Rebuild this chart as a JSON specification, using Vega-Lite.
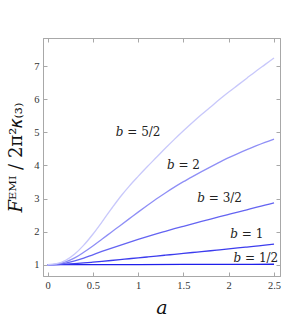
{
  "$schema": "https://vega.github.io/schema/vega-lite/v6.json",
  "autosize": "none",
  "width": 237,
  "height": 238,
  "padding": {"left": 43, "top": 38, "right": 19, "bottom": 50},
  "background": "white",
  "config": {
    "view": {"stroke": "#a8a8a8", "strokeWidth": 1},
    "axis": {
      "domainColor": "#a8a8a8",
      "tickColor": "#a8a8a8",
      "grid": false,
      "labelFont": "Liberation Serif",
      "labelFontSize": 10.5,
      "labelColor": "#333333",
      "titleFont": "DejaVu Serif",
      "titleFontWeight": "normal",
      "titleColor": "#111111"
    }
  },
  "datasets": {
    "curves": [
      {"b": "1/2", "a": 0, "v": 1.0}, {"b": "1/2", "a": 0.5, "v": 1.002}, {"b": "1/2", "a": 1.0, "v": 1.004}, {"b": "1/2", "a": 1.5, "v": 1.007}, {"b": "1/2", "a": 2.0, "v": 1.01}, {"b": "1/2", "a": 2.5, "v": 1.013},
      {"b": "1", "a": 0, "v": 1.0}, {"b": "1", "a": 0.1, "v": 1.004}, {"b": "1", "a": 0.2, "v": 1.015}, {"b": "1", "a": 0.3, "v": 1.032}, {"b": "1", "a": 0.4, "v": 1.053}, {"b": "1", "a": 0.5, "v": 1.077}, {"b": "1", "a": 0.6, "v": 1.102}, {"b": "1", "a": 0.7, "v": 1.127}, {"b": "1", "a": 0.8, "v": 1.153}, {"b": "1", "a": 0.9, "v": 1.18}, {"b": "1", "a": 1.0, "v": 1.206}, {"b": "1", "a": 1.1, "v": 1.233}, {"b": "1", "a": 1.2, "v": 1.26}, {"b": "1", "a": 1.3, "v": 1.287}, {"b": "1", "a": 1.4, "v": 1.314}, {"b": "1", "a": 1.5, "v": 1.341}, {"b": "1", "a": 1.6, "v": 1.368}, {"b": "1", "a": 1.7, "v": 1.395}, {"b": "1", "a": 1.8, "v": 1.422}, {"b": "1", "a": 1.9, "v": 1.45}, {"b": "1", "a": 2.0, "v": 1.478}, {"b": "1", "a": 2.1, "v": 1.506}, {"b": "1", "a": 2.2, "v": 1.534}, {"b": "1", "a": 2.3, "v": 1.562}, {"b": "1", "a": 2.4, "v": 1.59}, {"b": "1", "a": 2.5, "v": 1.62},
      {"b": "3/2", "a": 0, "v": 1.0}, {"b": "3/2", "a": 0.1, "v": 1.012}, {"b": "3/2", "a": 0.2, "v": 1.05}, {"b": "3/2", "a": 0.3, "v": 1.115}, {"b": "3/2", "a": 0.4, "v": 1.2}, {"b": "3/2", "a": 0.5, "v": 1.3}, {"b": "3/2", "a": 0.6, "v": 1.4}, {"b": "3/2", "a": 0.7, "v": 1.495}, {"b": "3/2", "a": 0.8, "v": 1.587}, {"b": "3/2", "a": 0.9, "v": 1.677}, {"b": "3/2", "a": 1.0, "v": 1.765}, {"b": "3/2", "a": 1.1, "v": 1.85}, {"b": "3/2", "a": 1.2, "v": 1.932}, {"b": "3/2", "a": 1.3, "v": 2.01}, {"b": "3/2", "a": 1.4, "v": 2.087}, {"b": "3/2", "a": 1.5, "v": 2.162}, {"b": "3/2", "a": 1.6, "v": 2.236}, {"b": "3/2", "a": 1.7, "v": 2.309}, {"b": "3/2", "a": 1.8, "v": 2.381}, {"b": "3/2", "a": 1.9, "v": 2.452}, {"b": "3/2", "a": 2.0, "v": 2.522}, {"b": "3/2", "a": 2.1, "v": 2.592}, {"b": "3/2", "a": 2.2, "v": 2.661}, {"b": "3/2", "a": 2.3, "v": 2.73}, {"b": "3/2", "a": 2.4, "v": 2.8}, {"b": "3/2", "a": 2.5, "v": 2.87},
      {"b": "2", "a": 0, "v": 1.0}, {"b": "2", "a": 0.1, "v": 1.02}, {"b": "2", "a": 0.2, "v": 1.085}, {"b": "2", "a": 0.3, "v": 1.205}, {"b": "2", "a": 0.4, "v": 1.375}, {"b": "2", "a": 0.5, "v": 1.565}, {"b": "2", "a": 0.6, "v": 1.77}, {"b": "2", "a": 0.7, "v": 1.975}, {"b": "2", "a": 0.8, "v": 2.18}, {"b": "2", "a": 0.9, "v": 2.385}, {"b": "2", "a": 1.0, "v": 2.59}, {"b": "2", "a": 1.1, "v": 2.79}, {"b": "2", "a": 1.2, "v": 2.985}, {"b": "2", "a": 1.3, "v": 3.17}, {"b": "2", "a": 1.4, "v": 3.345}, {"b": "2", "a": 1.5, "v": 3.51}, {"b": "2", "a": 1.6, "v": 3.665}, {"b": "2", "a": 1.7, "v": 3.815}, {"b": "2", "a": 1.8, "v": 3.96}, {"b": "2", "a": 1.9, "v": 4.1}, {"b": "2", "a": 2.0, "v": 4.235}, {"b": "2", "a": 2.1, "v": 4.36}, {"b": "2", "a": 2.2, "v": 4.478}, {"b": "2", "a": 2.3, "v": 4.592}, {"b": "2", "a": 2.4, "v": 4.7}, {"b": "2", "a": 2.5, "v": 4.8},
      {"b": "5/2", "a": 0, "v": 1.0}, {"b": "5/2", "a": 0.1, "v": 1.03}, {"b": "5/2", "a": 0.2, "v": 1.13}, {"b": "5/2", "a": 0.3, "v": 1.32}, {"b": "5/2", "a": 0.4, "v": 1.59}, {"b": "5/2", "a": 0.5, "v": 1.92}, {"b": "5/2", "a": 0.6, "v": 2.29}, {"b": "5/2", "a": 0.7, "v": 2.67}, {"b": "5/2", "a": 0.8, "v": 3.04}, {"b": "5/2", "a": 0.9, "v": 3.37}, {"b": "5/2", "a": 1.0, "v": 3.67}, {"b": "5/2", "a": 1.1, "v": 3.96}, {"b": "5/2", "a": 1.2, "v": 4.24}, {"b": "5/2", "a": 1.3, "v": 4.52}, {"b": "5/2", "a": 1.4, "v": 4.79}, {"b": "5/2", "a": 1.5, "v": 5.05}, {"b": "5/2", "a": 1.6, "v": 5.3}, {"b": "5/2", "a": 1.7, "v": 5.54}, {"b": "5/2", "a": 1.8, "v": 5.77}, {"b": "5/2", "a": 1.9, "v": 6.0}, {"b": "5/2", "a": 2.0, "v": 6.22}, {"b": "5/2", "a": 2.1, "v": 6.43}, {"b": "5/2", "a": 2.2, "v": 6.64}, {"b": "5/2", "a": 2.3, "v": 6.85}, {"b": "5/2", "a": 2.4, "v": 7.05}, {"b": "5/2", "a": 2.5, "v": 7.25}
    ],
    "labels": [
      {"b": "5/2", "a": 1.0, "v": 5.0, "text": "𝑏 = 5/2"},
      {"b": "2", "a": 1.5, "v": 4.02, "text": "𝑏 = 2"},
      {"b": "3/2", "a": 1.9, "v": 3.01, "text": "𝑏 = 3/2"},
      {"b": "1", "a": 2.2, "v": 1.93, "text": "𝑏 = 1"},
      {"b": "1/2", "a": 2.3, "v": 1.2, "text": "𝑏 = 1/2"}
    ]
  },
  "layer": [
    {
      "data": {"name": "curves"},
      "mark": {"type": "line", "interpolate": "monotone", "strokeWidth": 1.3, "clip": true},
      "encoding": {
        "x": {
          "field": "a", "type": "quantitative",
          "scale": {"domain": [-0.05, 2.566], "nice": false, "zero": false},
          "axis": {"orient": "bottom", "values": [0, 0.5, 1, 1.5, 2, 2.5], "format": "~g", "tickSize": -4, "labelPadding": 8, "title": "𝑎", "titleFontSize": 19, "titlePadding": 8}
        },
        "y": {
          "field": "v", "type": "quantitative",
          "scale": {"domain": [0.658, 7.855], "nice": false, "zero": false},
          "axis": {"orient": "left", "values": [1, 2, 3, 4, 5, 6, 7], "format": "~g", "tickSize": -4, "labelPadding": 8, "title": "𝐹ᴱᴹᴵ / 2π²𝜅₍₃₎", "titleFontSize": 18, "titlePadding": 8}
        },
        "color": {
          "field": "b", "type": "nominal",
          "scale": {"domain": ["1/2", "1", "3/2", "2", "5/2"], "range": ["#1f1fea", "#3c3cee", "#6464f2", "#8f8ff6", "#c8c8fb"]},
          "legend": null
        }
      }
    },
    {
      "data": {"name": "labels"},
      "mark": {"type": "text", "font": "DejaVu Serif", "fontSize": 12, "color": "#222222"},
      "encoding": {
        "x": {"field": "a", "type": "quantitative", "axis": {"orient": "top", "values": [0, 0.5, 1, 1.5, 2, 2.5], "tickSize": -4, "labels": false, "title": null}},
        "y": {"field": "v", "type": "quantitative", "axis": {"orient": "right", "values": [1, 2, 3, 4, 5, 6, 7], "tickSize": -4, "labels": false, "title": null}},
        "text": {"field": "text"}
      }
    }
  ],
  "resolve": {"axis": {"x": "independent", "y": "independent"}}
}
